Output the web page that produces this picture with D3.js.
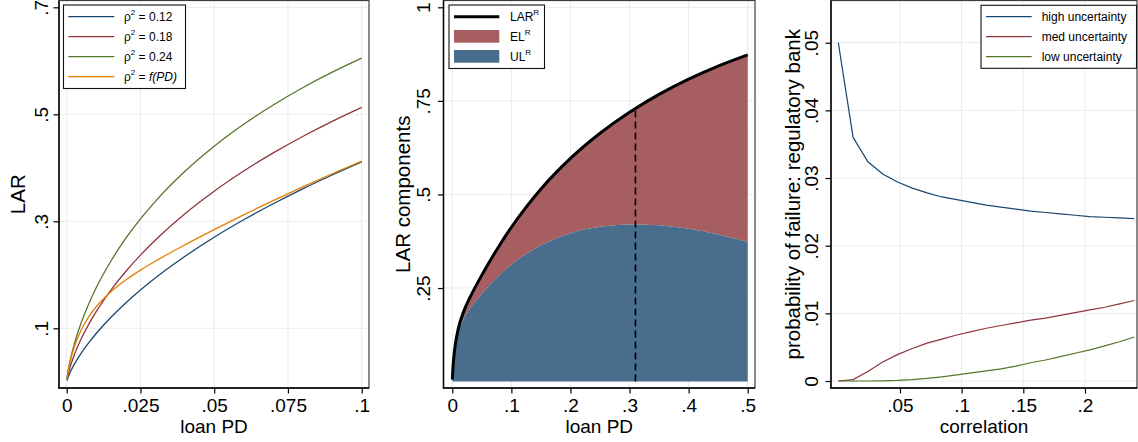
<!DOCTYPE html>
<html>
<head>
<meta charset="utf-8">
<script src="https://cdn.jsdelivr.net/npm/d3@7"></script>
<style>
  body { margin: 0; background: #fff; }
  svg { display: block; }
  text { white-space: pre; }
</style>
</head>
<body>
<svg id="chart" width="1138" height="442"></svg>
<script>
// ---------------- DATA ----------------
// Panel 1: LAR vs loan PD for several correlations
const pd1 = [0.0001, 0.0005, 0.001, 0.0025, 0.005, 0.0075, 0.01, 0.015, 0.02, 0.025, 0.03, 0.04, 0.05, 0.06, 0.07, 0.08, 0.09, 0.1];
const lar012 = [0.0024, 0.0090, 0.0157, 0.0321, 0.0543, 0.0733, 0.0903, 0.1206, 0.1473, 0.1715, 0.1939, 0.2342, 0.2702, 0.3028, 0.3328, 0.3607, 0.3866, 0.4110];
const lar018 = [0.0039, 0.0144, 0.0247, 0.0493, 0.0813, 0.1078, 0.1311, 0.1714, 0.2061, 0.2368, 0.2646, 0.3137, 0.3562, 0.3939, 0.4278, 0.4586, 0.4869, 0.5130];
const lar024 = [0.0057, 0.0208, 0.0353, 0.0690, 0.1116, 0.1460, 0.1757, 0.2258, 0.2679, 0.3044, 0.3369, 0.3929, 0.4403, 0.4813, 0.5174, 0.5497, 0.5787, 0.6050];
const larFPD = [0.0057, 0.0204, 0.0342, 0.0641, 0.0978, 0.1217, 0.1403, 0.1685, 0.1903, 0.2087, 0.2253, 0.2558, 0.2845, 0.3121, 0.3388, 0.3644, 0.3889, 0.4124];
const p1Names = ["0.12", "0.18", "0.24", "f(PD)"];

// Panel 2: LAR components
const pd2 = [0.0001, 0.001, 0.0025, 0.005, 0.01, 0.02, 0.03, 0.04, 0.05, 0.06, 0.075, 0.1, 0.125, 0.15, 0.175, 0.2, 0.25, 0.3, 0.31, 0.35, 0.4, 0.45, 0.5];
const larR = [0.0057, 0.0342, 0.0641, 0.0978, 0.1403, 0.1903, 0.2253, 0.2558, 0.2845, 0.3121, 0.3517, 0.4124, 0.4661, 0.5146, 0.5576, 0.5964, 0.6635, 0.7198, 0.7299, 0.7674, 0.8082, 0.8431, 0.8731];
const ulR  = [0.0056, 0.0332, 0.0616, 0.0928, 0.1303, 0.1703, 0.1953, 0.2158, 0.2345, 0.2521, 0.2767, 0.3124, 0.3411, 0.3646, 0.3826, 0.3964, 0.4135, 0.4198, 0.4199, 0.4174, 0.4082, 0.3931, 0.3731];
const ulPeakPD = 0.31;

// Panel 3: probability of failure vs correlation
const corr = [0, 0.012, 0.024, 0.036, 0.048, 0.06, 0.072, 0.084, 0.096, 0.108, 0.12, 0.132, 0.144, 0.156, 0.168, 0.18, 0.192, 0.204, 0.216, 0.228, 0.24];
const pfHigh = [0.0500, 0.0360, 0.0324, 0.0306, 0.0294, 0.0285, 0.0278, 0.0272, 0.0268, 0.0264, 0.0260, 0.0257, 0.0254, 0.0251, 0.0249, 0.0247, 0.0245, 0.0243, 0.0242, 0.0241, 0.0240];
const pfMed  = [0.0000, 0.0002, 0.0014, 0.0028, 0.0039, 0.0048, 0.0056, 0.0062, 0.0068, 0.0073, 0.0078, 0.0082, 0.0086, 0.0090, 0.0093, 0.0097, 0.0101, 0.0105, 0.0109, 0.0114, 0.0119];
const pfLow  = [0.0000, 0.0000, 0.0000, 0.00002, 0.00008, 0.0002, 0.0004, 0.0006, 0.0009, 0.0012, 0.0015, 0.0018, 0.0022, 0.0027, 0.0031, 0.0036, 0.0041, 0.0046, 0.0052, 0.0058, 0.0065];
const p3Names = ["high uncertainty", "med uncertainty", "low uncertainty"];

// Tick values and labels
const p1XTicks = [0, 0.025, 0.05, 0.075, 0.1], p1XLabels = ["0", ".025", ".05", ".075", ".1"];
const p1YTicks = [0.1, 0.3, 0.5, 0.7], p1YLabels = [".1", ".3", ".5", ".7"];
const p2XTicks = [0, 0.1, 0.2, 0.3, 0.4, 0.5], p2XLabels = ["0", ".1", ".2", ".3", ".4", ".5"];
const p2YTicks = [0.25, 0.5, 0.75, 1], p2YLabels = [".25", ".5", ".75", "1"];
const p3XTicks = [0.05, 0.1, 0.15, 0.2], p3XLabels = [".05", ".1", ".15", ".2"];
const p3YTicks = [0, 0.01, 0.02, 0.03, 0.04, 0.05], p3YLabels = ["0", ".01", ".02", ".03", ".04", ".05"];

// ---------------- STYLE ----------------
const FONT = '"Liberation Sans", Arial, Helvetica, sans-serif';
const C_BLUE = "#1a476f", C_RED = "#90353b", C_GREEN = "#55752f", C_ORANGE = "#e37e00";
const F_EL = "#a65e61", F_UL = "#496d8d";

const svg = d3.select("#chart").attr("font-family", FONT);

function background(f, x, y, xt, yt) {
  const g = svg.append("g");
  g.append("rect").attr("x", f.l).attr("y", f.t).attr("width", f.r - f.l).attr("height", f.b - f.t).attr("fill", "#fff");
  g.selectAll("line.gx").data(xt).join("line").attr("class", "gx")
    .attr("x1", d => x(d)).attr("x2", d => x(d)).attr("y1", f.t).attr("y2", f.b)
    .attr("stroke", "#ebebeb").attr("stroke-width", 1);
  g.selectAll("line.gy").data(yt).join("line").attr("class", "gy")
    .attr("y1", d => y(d)).attr("y2", d => y(d)).attr("x1", f.l).attr("x2", f.r)
    .attr("stroke", "#ebebeb").attr("stroke-width", 1);
}

function axes(f, x, y, xt, xl, yt, yl, yLabOff, yTitle, yTitleX, xTitle) {
  svg.append("rect").attr("x", f.l).attr("y", f.t).attr("width", f.r - f.l).attr("height", f.b - f.t)
    .attr("fill", "none").attr("stroke", "#3c3c3c").attr("stroke-width", 1.2);
  const ax = svg.append("g").attr("transform", `translate(0,${f.b})`)
    .call(d3.axisBottom(x).tickValues(xt).tickFormat(d => xl[xt.indexOf(d)]).tickSize(5.5));
  ax.select(".domain").remove();
  ax.attr("font-size", 19).attr("font-family", FONT);
  ax.selectAll("line").attr("stroke", "#000").attr("stroke-width", 1.2);
  ax.selectAll("text").attr("fill", "#000").attr("y", 23.5).attr("dy", null);

  const ay = svg.append("g").attr("transform", `translate(${f.l},0)`)
    .call(d3.axisLeft(y).tickValues(yt).tickFormat(d => yl[yt.indexOf(d)]).tickSize(5.5));
  ay.select(".domain").remove();
  ay.attr("font-size", 19).attr("font-family", FONT);
  ay.selectAll("line").attr("stroke", "#000").attr("stroke-width", 1.2);
  ay.selectAll("text").attr("fill", "#000").attr("x", null).attr("dy", null)
    .attr("text-anchor", "middle").attr("transform", `translate(${-yLabOff},0) rotate(-90)`);

  svg.append("line").attr("x1", f.l).attr("x2", f.l).attr("y1", f.t).attr("y2", f.b + 0.6)
    .attr("stroke", "#000").attr("stroke-width", 1.4);
  svg.append("line").attr("x1", f.l - 0.6).attr("x2", f.r).attr("y1", f.b).attr("y2", f.b)
    .attr("stroke", "#000").attr("stroke-width", 1.4);

  svg.append("text").attr("x", (f.l + f.r) / 2).attr("y", 432.5).attr("text-anchor", "middle")
    .attr("font-size", 19).text(xTitle);
  svg.append("text").attr("transform", `translate(${yTitleX},${(f.t + f.b) / 2}) rotate(-90)`)
    .attr("text-anchor", "middle").attr("font-size", 20.5).text(yTitle);
}

function legendBox(x0, y0, x1, y1) {
  svg.append("rect").attr("x", x0).attr("y", y0).attr("width", x1 - x0).attr("height", y1 - y0)
    .attr("fill", "#fff").attr("stroke", "#111").attr("stroke-width", 1.1);
}

// ---------------- PANEL 1 ----------------
const f1 = { l: 59, r: 369, t: 0.5, b: 388 };
const x1 = d3.scaleLinear().domain([0, 0.1]).range([66.7, 361.7]);
const y1 = d3.scaleLinear().domain([0, 0.7]).range([381.8, 7.3]);
background(f1, x1, y1, p1XTicks, p1YTicks);
const line1 = d3.line().x((d, i) => x1(pd1[i])).y(d => y1(d)).curve(d3.curveMonotoneX);
const p1Series = [lar012, lar018, lar024, larFPD];
const p1Colors = [C_BLUE, C_RED, C_GREEN, C_ORANGE];
p1Series.forEach((s, k) => {
  svg.append("path").datum(s).attr("d", line1).attr("fill", "none")
    .attr("stroke", p1Colors[k]).attr("stroke-width", 1.3);
});
axes(f1, x1, y1, p1XTicks, p1XLabels, p1YTicks, p1YLabels, 11, "LAR", 25, "loan PD");
legendBox(63.5, 5, 185.5, 88.5);
p1Names.forEach((n, k) => {
  const ry = 16.7 + k * 20;
  svg.append("line").attr("x1", 68.3).attr("x2", 114.3).attr("y1", ry).attr("y2", ry)
    .attr("stroke", p1Colors[k]).attr("stroke-width", 1.3);
  const t = svg.append("text").attr("x", 124).attr("y", ry + 4.4).attr("font-size", 12);
  t.append("tspan").text("ρ");
  t.append("tspan").attr("font-size", 8).attr("dy", -6).text("2");
  t.append("tspan").attr("dy", 6).text(" = ");
  t.append("tspan").attr("font-style", k === 3 ? "italic" : "normal").text(n);
});

// ---------------- PANEL 2 ----------------
const f2 = { l: 443.5, r: 755, t: 0.5, b: 388 };
const x2 = d3.scaleLinear().domain([0, 0.5]).range([452.3, 747.7]);
const y2 = d3.scaleLinear().domain([0, 1]).range([381.6, 7.3]);
background(f2, x2, y2, p2XTicks, p2YTicks);
const elArea = d3.area().x((d, i) => x2(pd2[i])).y0((d, i) => y2(ulR[i])).y1(d => y2(d)).curve(d3.curveMonotoneX);
const ulArea = d3.area().x((d, i) => x2(pd2[i])).y0(y2(0)).y1(d => y2(d)).curve(d3.curveMonotoneX);
svg.append("path").datum(larR).attr("d", elArea).attr("fill", F_EL);
svg.append("path").datum(ulR).attr("d", ulArea).attr("fill", F_UL);
const peakIdx = pd2.indexOf(ulPeakPD);
svg.append("line").attr("x1", x2(ulPeakPD)).attr("x2", x2(ulPeakPD))
  .attr("y1", y2(0)).attr("y2", y2(larR[peakIdx]))
  .attr("stroke", "#000").attr("stroke-width", 1.6).attr("stroke-dasharray", "7,4");
const line2 = d3.line().x((d, i) => x2(pd2[i])).y(d => y2(d)).curve(d3.curveMonotoneX);
svg.append("path").datum(larR).attr("d", line2).attr("fill", "none")
  .attr("stroke", "#000").attr("stroke-width", 3);
axes(f2, x2, y2, p2XTicks, p2XLabels, p2YTicks, p2YLabels, 13.5, "LAR components", 410, "loan PD");
legendBox(449, 5, 544.5, 68.5);
svg.append("line").attr("x1", 454).attr("x2", 499.3).attr("y1", 16.7).attr("y2", 16.7)
  .attr("stroke", "#000").attr("stroke-width", 3);
svg.append("rect").attr("x", 454).attr("y", 30).attr("width", 45.3).attr("height", 12.7).attr("fill", F_EL);
svg.append("rect").attr("x", 454).attr("y", 50).attr("width", 45.3).attr("height", 12.7).attr("fill", F_UL);
[["LAR", 16.7], ["EL", 36.4], ["UL", 56.4]].forEach(([n, ry]) => {
  const t = svg.append("text").attr("x", 510).attr("y", ry + 4.4).attr("font-size", 12);
  t.append("tspan").text(n);
  t.append("tspan").attr("font-size", 8).attr("dy", -6).text("R");
});

// ---------------- PANEL 3 ----------------
const f3 = { l: 831, r: 1137, t: 0.5, b: 388 };
const x3 = d3.scaleLinear().domain([0, 0.24]).range([838.3, 1134.3]);
const y3 = d3.scaleLinear().domain([0, 0.05]).range([381, 42.7]);
background(f3, x3, y3, p3XTicks, p3YTicks);
const line3 = d3.line().x((d, i) => x3(corr[i])).y(d => y3(d));
const p3Series = [pfHigh, pfMed, pfLow];
const p3Colors = [C_BLUE, C_RED, C_GREEN];
p3Series.forEach((s, k) => {
  svg.append("path").datum(s).attr("d", line3).attr("fill", "none")
    .attr("stroke", p3Colors[k]).attr("stroke-width", 1.2);
});
axes(f3, x3, y3, p3XTicks, p3XLabels, p3YTicks, p3YLabels, 12.7, "probability of failure: regulatory bank", 799.5, "correlation");
legendBox(981, 5.3, 1136.5, 68.3);
p3Names.forEach((n, k) => {
  const ry = 16.7 + k * 20;
  svg.append("line").attr("x1", 986).attr("x2", 1031.7).attr("y1", ry).attr("y2", ry)
    .attr("stroke", p3Colors[k]).attr("stroke-width", 1.2);
  svg.append("text").attr("x", 1041.7).attr("y", ry + 4.4).attr("font-size", 12).text(n);
});
</script>
</body>
</html>
